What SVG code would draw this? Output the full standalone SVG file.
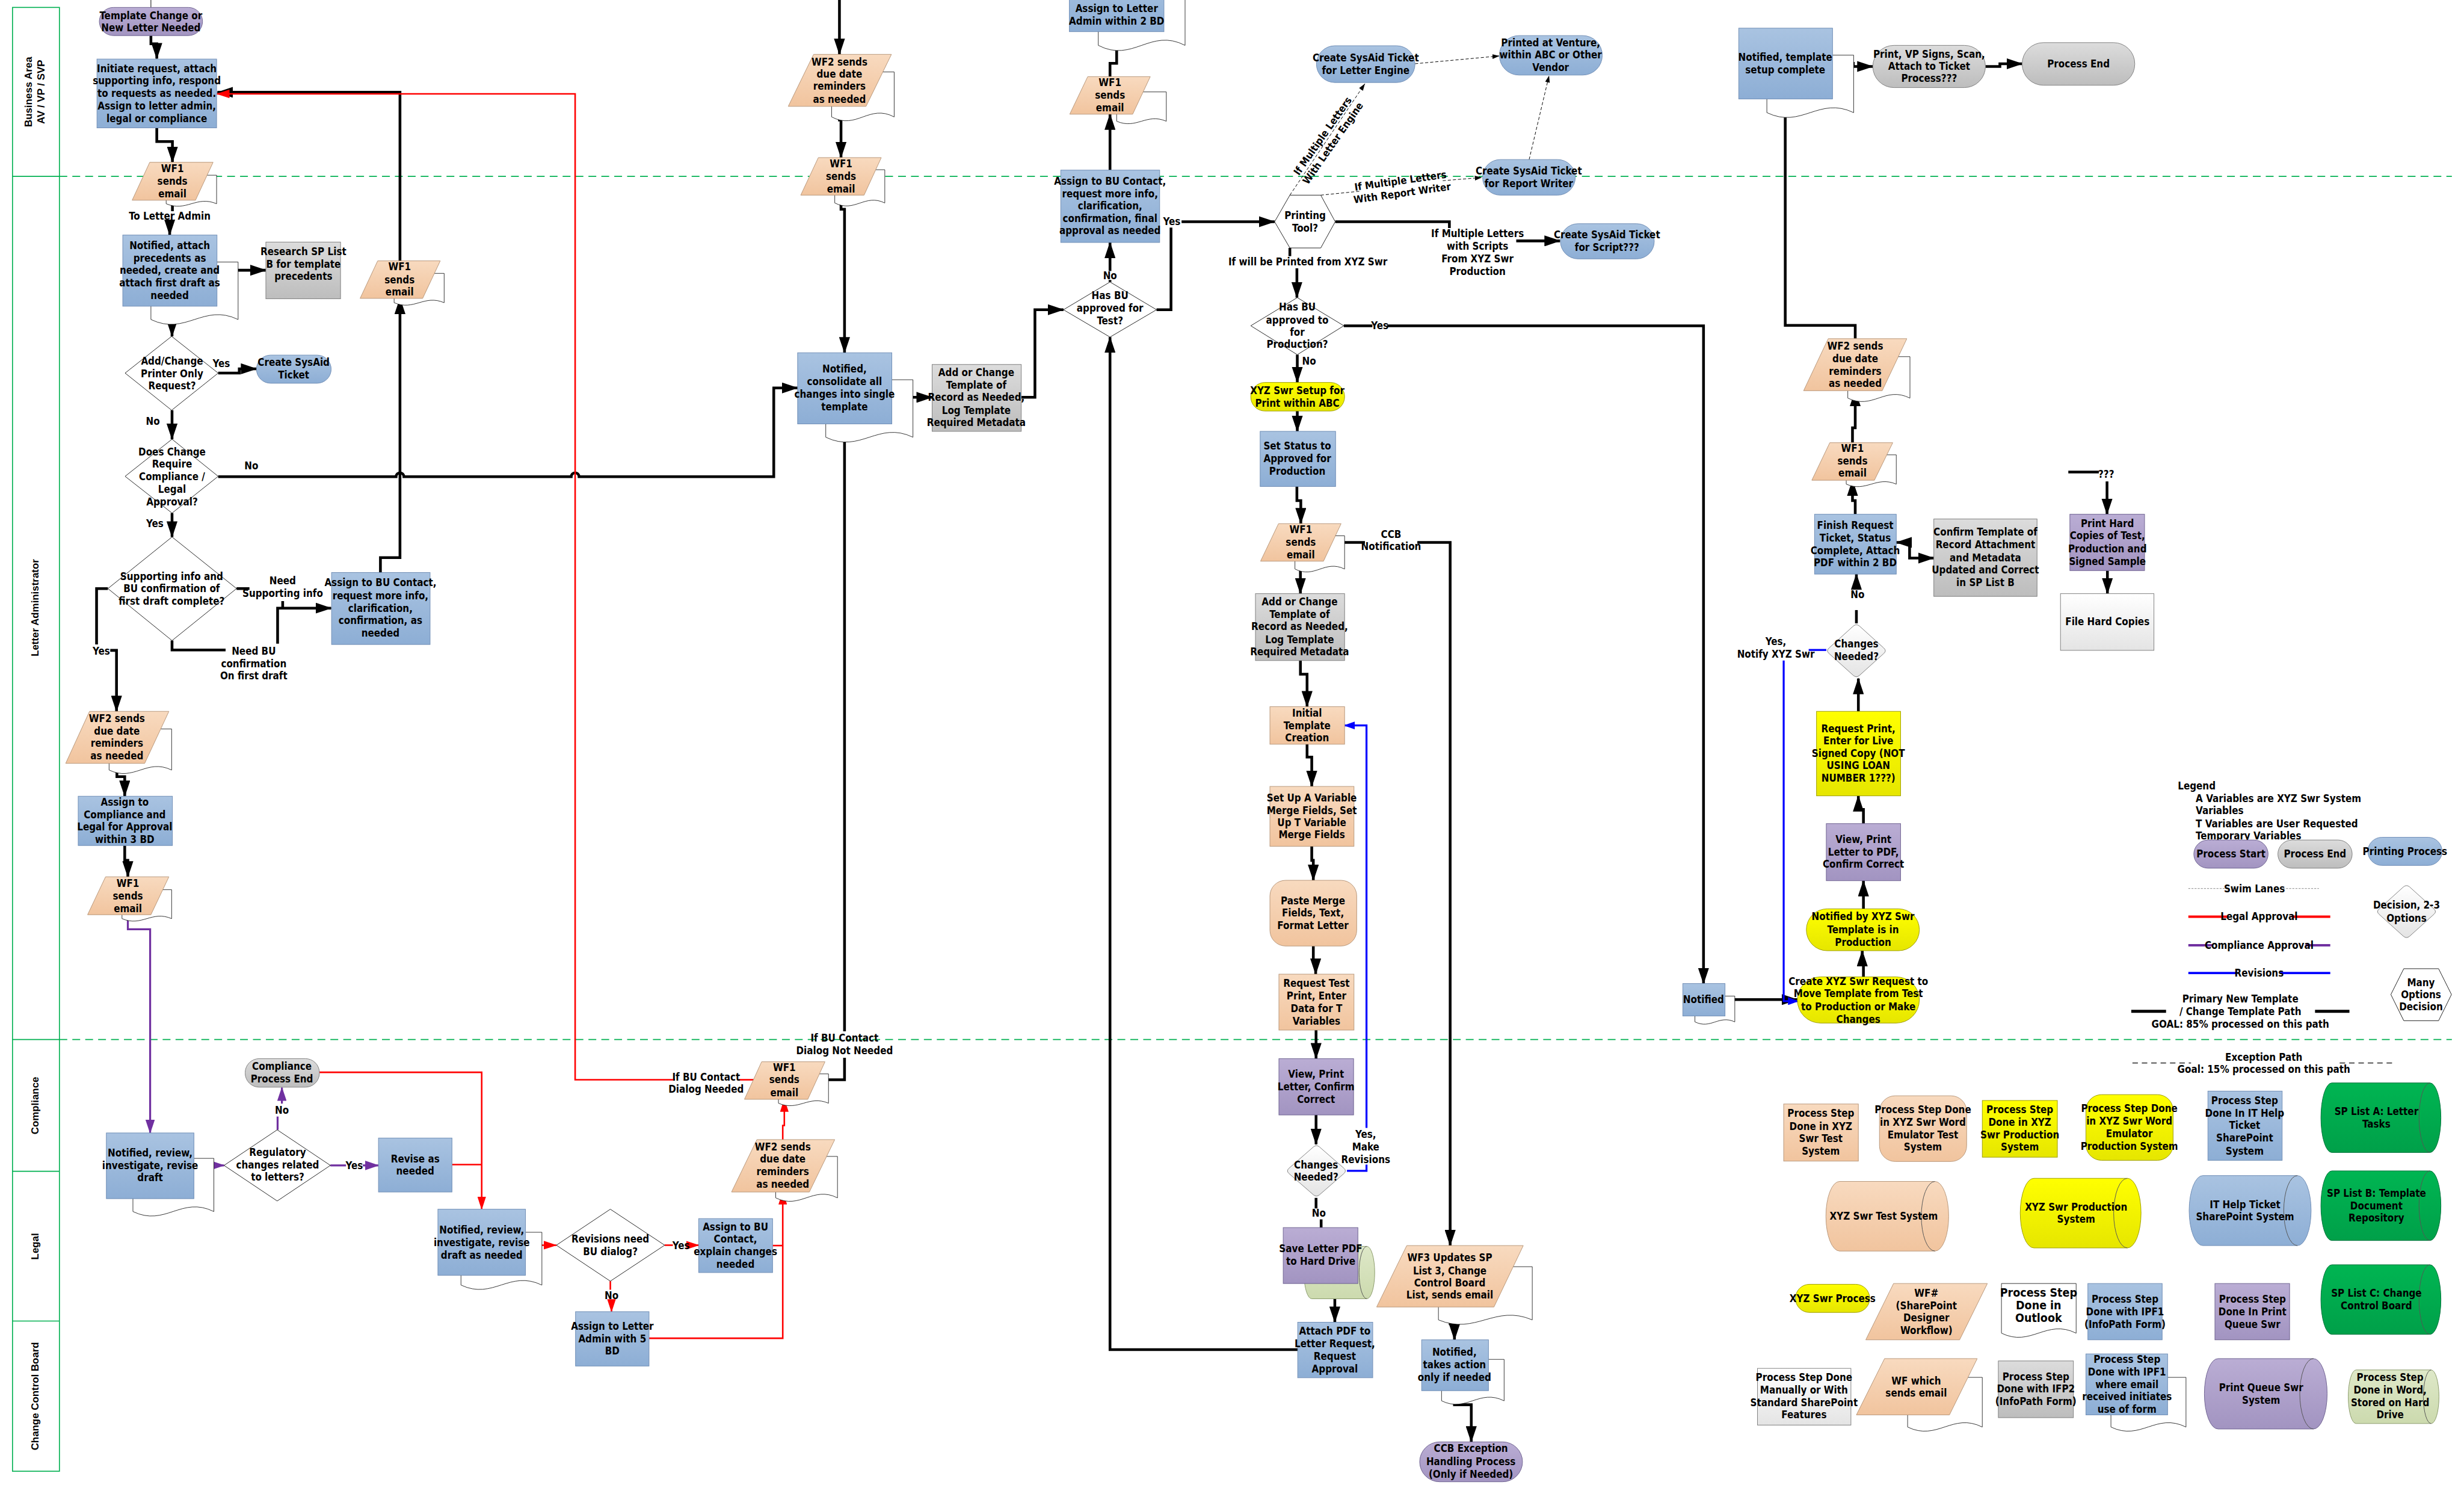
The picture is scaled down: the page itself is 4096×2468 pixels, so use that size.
<svg xmlns="http://www.w3.org/2000/svg" width="4096" height="2468" viewBox="0 0 4096 2468">
<defs>
<style>
.t{font-family:"Liberation Sans Narrow","Arial Narrow","DejaVu Sans Condensed","Liberation Sans",sans-serif;font-weight:bold;font-size:26px;text-anchor:middle;fill:#000}
.tl{font-family:"Liberation Sans Narrow","Arial Narrow","DejaVu Sans Condensed","Liberation Sans",sans-serif;font-weight:bold;font-size:26px;text-anchor:start;fill:#000}
.lane{font-family:"Liberation Sans",Arial,sans-serif;font-weight:bold;font-size:26px;text-anchor:middle;fill:#000}
.ck{fill:none;stroke:#000;stroke-width:7}
.cr{fill:none;stroke:#f00;stroke-width:4}
.cp{fill:none;stroke:#7030A0;stroke-width:5}
.cb{fill:none;stroke:#00f;stroke-width:5}
.cd{fill:none;stroke:#000;stroke-width:1.5;stroke-dasharray:8 5}
.thin{fill:none;stroke:#000;stroke-width:1.5}
.blue{fill:url(#gB);stroke:#6F8DB5;stroke-width:1.5}
.org{fill:url(#gO);stroke:#B8977A;stroke-width:1.5}
.gry{fill:url(#gG);stroke:#7F7F7F;stroke-width:1.5}
.pur{fill:url(#gP);stroke:#6E6290;stroke-width:1.5}
.yel{fill:url(#gY);stroke:#9C9C00;stroke-width:1.5}
.grn{fill:url(#gN);stroke:#00703A;stroke-width:1.5}
.lgr{fill:url(#gL);stroke:#8A9A6A;stroke-width:1.5}
.wht{fill:url(#gW);stroke:#7F7F7F;stroke-width:1.5}
.doc{fill:#fff;stroke:#000;stroke-width:1.2}
.dia{fill:#fff;stroke:#000;stroke-width:1.3}
.face{fill:none;stroke:#555;stroke-width:1.5}
.lg{fill:none;stroke:#00B050;stroke-width:2.5}
.ld{fill:none;stroke:#00B050;stroke-width:2.5;stroke-dasharray:20 13}
</style>
<linearGradient id="gB" x1="0" y1="0" x2="0" y2="1"><stop offset="0" stop-color="#A9C3E1"/><stop offset="1" stop-color="#8DAED5"/></linearGradient>
<linearGradient id="gO" x1="0" y1="0" x2="0" y2="1"><stop offset="0" stop-color="#F8DABF"/><stop offset="1" stop-color="#F1C49E"/></linearGradient>
<linearGradient id="gG" x1="0" y1="0" x2="0" y2="1"><stop offset="0" stop-color="#DCDCDC"/><stop offset="1" stop-color="#BDBDBD"/></linearGradient>
<linearGradient id="gP" x1="0" y1="0" x2="0" y2="1"><stop offset="0" stop-color="#BAADD4"/><stop offset="1" stop-color="#A294C1"/></linearGradient>
<linearGradient id="gY" x1="0" y1="0" x2="0" y2="1"><stop offset="0" stop-color="#FFFF00"/><stop offset="1" stop-color="#E6E600"/></linearGradient>
<linearGradient id="gN" x1="0" y1="0" x2="0" y2="1"><stop offset="0" stop-color="#00B552"/><stop offset="1" stop-color="#00A049"/></linearGradient>
<linearGradient id="gL" x1="0" y1="0" x2="0" y2="1"><stop offset="0" stop-color="#DEE8C8"/><stop offset="1" stop-color="#CCDAAE"/></linearGradient>
<linearGradient id="gW" x1="0" y1="0" x2="0" y2="1"><stop offset="0" stop-color="#FFFFFF"/><stop offset="1" stop-color="#E4E4E4"/></linearGradient>
<marker id="ab" viewBox="0 0 42 28" refX="40" refY="14" markerWidth="42" markerHeight="28" markerUnits="userSpaceOnUse" orient="auto-start-reverse"><path d="M0,0 L42,14 L0,28 Z" fill="#000"/></marker>
<marker id="ar" viewBox="0 0 34 22" refX="32" refY="11" markerWidth="34" markerHeight="22" markerUnits="userSpaceOnUse" orient="auto"><path d="M0,0 L34,11 L0,22 Z" fill="#f00"/></marker>
<marker id="ap" viewBox="0 0 36 24" refX="34" refY="12" markerWidth="36" markerHeight="24" markerUnits="userSpaceOnUse" orient="auto"><path d="M0,0 L36,12 L0,24 Z" fill="#7030A0"/></marker>
<marker id="abl" viewBox="0 0 28 20" refX="26" refY="10" markerWidth="28" markerHeight="20" markerUnits="userSpaceOnUse" orient="auto"><path d="M0,0 L28,10 L0,20 Z" fill="#00f"/></marker>
<marker id="as" viewBox="0 0 18 12" refX="18" refY="6" markerWidth="18" markerHeight="12" markerUnits="userSpaceOnUse" orient="auto"><path d="M0,0 L18,6 L0,12 Z" fill="#000"/></marker>
</defs>
<rect width="4096" height="2468" fill="#fff"/>
<g transform="scale(0.64995)">

<g id="swimlanes">
<rect class="lg" x="32" y="19" width="120" height="3743"/>
<path class="lg" d="M32,451 H152 M32,2658 H152 M32,2995 H152 M32,3378 H152"/>
<path class="ld" d="M152,451 H6271 M152,2658 H6271"/>
<text class="lane" transform="translate(82,235) rotate(-90)">Business Area</text>
<text class="lane" transform="translate(114,235) rotate(-90)">AV / VP / SVP</text>
<text class="lane" transform="translate(99,1554) rotate(-90)">Letter Administrator</text>
<text class="lane" transform="translate(99,2827) rotate(-90)">Compliance</text>
<text class="lane" transform="translate(99,3187) rotate(-90)">Legal</text>
<text class="lane" transform="translate(99,3570) rotate(-90)">Change Control Board</text>
</g>

<g id="connectors">
<path class="thin" d="M386,0 V19"/>
<path class="ck" d="M386,91 V112 H401 V150" marker-end="url(#ab)"/>
<path class="ck" d="M401,327 V362 H441 V415" marker-end="url(#ab)"/>
<path class="ck" d="M441,512 V540"/>
<path class="ck" d="M434,568 V601" marker-end="url(#ab)"/>
<path class="ck" d="M555,691 H680" marker-start="url(#ab)" marker-end="url(#ab)"/>
<path class="ck" d="M434,783 V817 H440 V860" marker-end="url(#ab)"/>
<path class="ck" d="M558,954 H612 V943 H656" marker-end="url(#ab)"/>
<path class="ck" d="M440,1049 V1123" marker-end="url(#ab)"/>
<path class="ck" d="M558,1219 H1013 A10,10 0 0 1 1033,1219 H1461 A10,10 0 0 1 1481,1219 H1979 V992 H2040" marker-end="url(#ab)"/>
<path class="ck" d="M440,1312 V1373" marker-end="url(#ab)"/>
<path class="ck" d="M276,1505 H247 V1648"/>
<path class="ck" d="M282,1663 H298 V1819" marker-end="url(#ab)"/>
<path class="ck" d="M605,1505 H638"/>
<path class="ck" d="M723,1537 V1555"/>
<path class="ck" d="M710,1646 V1555 H847" marker-end="url(#ab)"/>
<path class="ck" d="M440,1638 V1662 H577"/>
<path class="ck" d="M973,1464 V1426 H1023 V763" marker-end="url(#ab)"/>
<path class="ck" d="M1023,667 V236 H556" marker-end="url(#ab)"/>
<path class="ck" d="M299,1952 V1986 H319 V2036" marker-end="url(#ab)"/>
<path class="ck" d="M319,2162 V2200 H327 V2242" marker-end="url(#ab)"/>
<path class="cp" d="M327,2339 V2376 H384 V2897" marker-end="url(#ap)"/>
<path class="cp" d="M496,2980 H573" marker-end="url(#ap)"/>
<path class="cp" d="M710,2889 V2855"/>
<path class="cp" d="M721,2822 V2781" marker-end="url(#ap)"/>
<path class="cp" d="M845,2980 H885"/>
<path class="cp" d="M928,2980 H968" marker-end="url(#ap)"/>
<path class="cr" d="M817,2742 H1232 V3092" marker-end="url(#ar)"/>
<path class="cr" d="M1156,2978 H1232"/>
<path class="cr" d="M1344,3177 H1378 V3184 H1423" marker-end="url(#ar)"/>
<path class="cr" d="M1561,3276 V3298"/>
<path class="cr" d="M1564,3328 V3354" marker-end="url(#ar)"/>
<path class="cr" d="M1700,3184 H1721"/>
<path class="cr" d="M1762,3184 H1787" marker-end="url(#ar)"/>
<path class="cr" d="M1660,3422 H2002 V3048" marker-end="url(#ar)"/>
<path class="cr" d="M1976,3185 H2002"/>
<path class="cr" d="M2002,2914 V2878 H2006 V2811" marker-end="url(#ar)"/>
<path class="cr" d="M1928,2761 H1890"/>
<path class="cr" d="M1726,2761 H1471 V240 H555" marker-end="url(#ar)"/>
<path class="ck" d="M2091,2761 H2160 V2705"/>
<path class="ck" d="M2160,2637 V1084" marker-end="url(#ab)"/>
<path class="ck" d="M2147,0 V139" marker-end="url(#ab)"/>
<path class="ck" d="M2147,272 V307 H2151 V403" marker-end="url(#ab)"/>
<path class="ck" d="M2151,499 V535 H2160 V902" marker-end="url(#ab)"/>
<path class="ck" d="M2281,992 H2315 V1016 H2384" marker-end="url(#ab)"/>
<path class="ck" d="M2612,1016 H2647 V792 H2720" marker-end="url(#ab)"/>
<path class="ck" d="M2839,721 V716"/>
<path class="ck" d="M2839,693 V620" marker-end="url(#ab)"/>
<path class="ck" d="M3319,3451 H2839 V862" marker-end="url(#ab)"/>
<path class="ck" d="M2839,435 V292" marker-end="url(#ab)"/>
<path class="ck" d="M2839,196 V162 H2856 V81" marker-end="url(#ab)"/>
<path class="ck" d="M2958,792 H2995 V582"/>
<path class="ck" d="M3022,567 H3260" marker-end="url(#ab)"/>
<path class="cd" d="M3299,499 L3491,214" marker-end="url(#as)"/>
<path class="cd" d="M3619,163 L3835,143" marker-end="url(#as)"/>
<path class="cd" d="M3911,408 L3962,193" marker-end="url(#as)"/>
<path class="cd" d="M3378,499 L3478,489"/>
<path class="cd" d="M3690,462 L3790,454" marker-end="url(#as)"/>
<path class="ck" d="M3415,567 H3707 V583"/>
<path class="ck" d="M3878,616 H3990" marker-end="url(#ab)"/>
<path class="ck" d="M3299,634 V655"/>
<path class="ck" d="M3317,686 V761" marker-end="url(#ab)"/>
<path class="ck" d="M3437,833 H3510"/>
<path class="ck" d="M3548,833 H4357 V2515" marker-end="url(#ab)"/>
<path class="ck" d="M3318,907 V978" marker-end="url(#ab)"/>
<path class="ck" d="M3318,1051 V1103" marker-end="url(#ab)"/>
<path class="ck" d="M3317,1244 V1280 H3327 V1339" marker-end="url(#ab)"/>
<path class="ck" d="M3411,1387 H3491"/>
<path class="ck" d="M3625,1387 H3709 V3185" marker-end="url(#ab)"/>
<path class="ck" d="M3326,1435 V1518" marker-end="url(#ab)"/>
<path class="ck" d="M3326,1689 V1724 H3343 V1807" marker-end="url(#ab)"/>
<path class="cb" d="M3445,2994 H3495 V2978"/>
<path class="cb" d="M3495,2884 V1855 H3439" marker-end="url(#abl)"/>
<path class="ck" d="M3343,1903 V1936 H3355 V2011" marker-end="url(#ab)"/>
<path class="ck" d="M3355,2164 V2200 H3359 V2251" marker-end="url(#ab)"/>
<path class="ck" d="M3359,2419 V2455 H3365 V2491" marker-end="url(#ab)"/>
<path class="ck" d="M3366,2634 V2707" marker-end="url(#ab)"/>
<path class="ck" d="M3366,2851 V2926" marker-end="url(#ab)"/>
<path class="ck" d="M3366,3063 V3090"/>
<path class="ck" d="M3379,3118 V3139"/>
<path class="ck" d="M3414,3321 V3381" marker-end="url(#ab)"/>
<path class="ck" d="M3709,3342 V3385 H3720 V3426" marker-end="url(#ab)"/>
<path class="ck" d="M3720,3556 V3592 H3763 V3687" marker-end="url(#ab)"/>
<path class="ck" d="M4412,2556 H4597" marker-end="url(#ab)"/>
<path class="cb" d="M4671,1662 H4626"/>
<path class="cb" d="M4562,1689 V2560 H4599" marker-end="url(#abl)"/>
<path class="ck" d="M4766,2498 V2465 H4763 V2431" marker-end="url(#ab)"/>
<path class="ck" d="M4766,2324 V2252" marker-end="url(#ab)"/>
<path class="ck" d="M4766,2106 V2070 H4753 V2035" marker-end="url(#ab)"/>
<path class="ck" d="M4753,1819 V1735" marker-end="url(#ab)"/>
<path class="ck" d="M4748,1594 V1560"/>
<path class="ck" d="M4748,1505 V1468" marker-end="url(#ab)"/>
<path class="ck" d="M4745,1315 V1280 H4738 V1228" marker-end="url(#ab)"/>
<path class="ck" d="M4738,1132 V1094 H4745 V999" marker-end="url(#ab)"/>
<path class="ck" d="M4745,866 V832 H4566 V253" marker-end="url(#ab)"/>
<path class="ck" d="M4850,1387 H4884 V1427 H4946" marker-start="url(#ab)" marker-end="url(#ab)"/>
<path class="ck" d="M4687,162 H4740 V170 H4790" marker-end="url(#ab)"/>
<path class="ck" d="M5078,170 H5115 V163 H5172" marker-end="url(#ab)"/>
<path class="ck" d="M5290,1207 H5368"/>
<path class="ck" d="M5389,1231 V1315" marker-end="url(#ab)"/>
<path class="ck" d="M5390,1459 V1518" marker-end="url(#ab)"/>

<text class="t" x="434" y="562">To Letter Admin</text>
<text class="t" x="566" y="938">Yes</text>
<text class="t" x="391" y="1087">No</text>
<text class="t" x="643" y="1200">No</text>
<text class="t" x="396" y="1348">Yes</text>
<text class="t"><tspan x="723" y="1494">Need</tspan><tspan x="723" y="1527">Supporting info</tspan></text>
<text class="t"><tspan x="649" y="1674">Need BU</tspan><tspan x="649" y="1706">confirmation</tspan><tspan x="649" y="1737">On first draft</tspan></text>
<text class="t" x="259" y="1674">Yes</text>
<text class="t" x="721" y="2848">No</text>
<text class="t" x="906" y="2989">Yes</text>
<text class="t" x="1564" y="3322">No</text>
<text class="t" x="1742" y="3194">Yes</text>
<text class="t"><tspan x="1806" y="2763">If BU Contact</tspan><tspan x="1806" y="2794">Dialog Needed</tspan></text>
<text class="t"><tspan x="2160" y="2664">If BU Contact</tspan><tspan x="2160" y="2696">Dialog Not Needed</tspan></text>
<text class="t" x="2839" y="714">No</text>
<text class="t" x="2997" y="576">Yes</text>
<g transform="translate(3396,357) rotate(-55)"><text class="t"><tspan x="0" y="-7">If Multiple Letters</tspan><tspan x="0" y="25">With Letter Engine</tspan></text></g>
<g transform="translate(3584,478) rotate(-8)"><text class="t"><tspan x="0" y="-7">If Multiple Letters</tspan><tspan x="0" y="25">With Report Writer</tspan></text></g>
<text class="t" x="3345" y="679">If will be Printed from XYZ Swr</text>
<text class="t"><tspan x="3779" y="606">If Multiple Letters</tspan><tspan x="3779" y="639">with Scripts</tspan><tspan x="3779" y="671">From XYZ Swr</tspan><tspan x="3779" y="703">Production</tspan></text>
<text class="t" x="3529" y="842">Yes</text>
<text class="t" x="3348" y="932">No</text>
<text class="t"><tspan x="3558" y="1375">CCB</tspan><tspan x="3558" y="1407">Notification</tspan></text>
<text class="t"><tspan x="4542" y="1649">Yes,</tspan><tspan x="4542" y="1681">Notify XYZ Swr</tspan></text>
<text class="t" x="4751" y="1529">No</text>
<text class="t"><tspan x="3493" y="2910">Yes,</tspan><tspan x="3493" y="2942">Make</tspan><tspan x="3493" y="2974">Revisions</tspan></text>
<text class="t" x="3373" y="3111">No</text>
<text class="t" x="5387" y="1221">???</text>
</g>

<g id="n_start"><rect class="pur" x="254" y="19" width="264" height="72" rx="36" stroke="#555"/><text class="t"><tspan x="386" y="49">Template Change or</tspan><tspan x="386" y="80">New Letter Needed</tspan></text></g>
<g id="n_initiate"><rect class="blue" x="248" y="151" width="306" height="176"/><text class="t"><tspan x="401" y="184">Initiate request, attach</tspan><tspan x="401" y="216">supporting info, respond</tspan><tspan x="401" y="248">to requests as needed.</tspan><tspan x="401" y="280">Assign to letter admin,</tspan><tspan x="401" y="312">legal or compliance</tspan></text></g>
<g id="n_wf1a"><path class="doc" d="M425,448 H554 V521 C502,499 477,543 425,521 Z"/><polygon class="org" points="383,415 545,415 500,512 338,512"/><text class="t"><tspan x="441" y="440">WF1</tspan><tspan x="441" y="473">sends</tspan><tspan x="441" y="504">email</tspan></text></g>
<g id="n_notified1"><path class="doc" d="M386,670 H609 V817 C520,774 475,860 386,817 Z"/><rect class="blue" x="314" y="601" width="241" height="182"/><text class="t"><tspan x="434" y="637">Notified, attach</tspan><tspan x="434" y="669">precedents as</tspan><tspan x="434" y="700">needed, create and</tspan><tspan x="434" y="733">attach first draft as</tspan><tspan x="434" y="765">needed</tspan></text></g>
<g id="n_research"><rect class="gry" x="680" y="619" width="191" height="145"/><text class="t"><tspan x="776" y="652">Research SP List</tspan><tspan x="776" y="684">B for template</tspan><tspan x="776" y="716">precedents</tspan></text></g>
<g id="n_dec1"><polygon class="dia" points="439,860 558,954 439,1049 320,954"/><text class="t"><tspan x="440" y="932">Add/Change</tspan><tspan x="440" y="964">Printer Only</tspan><tspan x="440" y="996">Request?</tspan></text></g>
<g id="n_sysaid1"><rect class="blue" x="656" y="908" width="191" height="72" rx="36" stroke="#555"/><text class="t"><tspan x="751" y="936">Create SysAid</tspan><tspan x="751" y="967">Ticket</tspan></text></g>
<g id="n_dec2"><polygon class="dia" points="440,1123 558,1218 440,1312 320,1218"/><text class="t"><tspan x="440" y="1164">Does Change</tspan><tspan x="440" y="1195">Require</tspan><tspan x="440" y="1228">Compliance /</tspan><tspan x="440" y="1260">Legal</tspan><tspan x="440" y="1292">Approval?</tspan></text></g>
<g id="n_wf1b"><path class="doc" d="M1008,699 H1136 V774 C1085,752 1059,796 1008,774 Z"/><polygon class="org" points="966,667 1126,667 1081,763 921,763"/><text class="t"><tspan x="1022" y="691">WF1</tspan><tspan x="1022" y="724">sends</tspan><tspan x="1022" y="755">email</tspan></text></g>
<g id="n_dec3"><polygon class="dia" points="440,1373 605,1505 440,1638 276,1505"/><text class="t"><tspan x="439" y="1483">Supporting info and</tspan><tspan x="439" y="1514">BU  confirmation of</tspan><tspan x="439" y="1547">first draft complete?</tspan></text></g>
<g id="n_assignbu1"><rect class="blue" x="848" y="1464" width="252" height="184"/><text class="t"><tspan x="973" y="1499">Assign to BU Contact,</tspan><tspan x="973" y="1532">request more info,</tspan><tspan x="973" y="1564">clarification,</tspan><tspan x="973" y="1596">confirmation, as</tspan><tspan x="973" y="1628">needed</tspan></text></g>
<g id="n_wf2a"><path class="doc" d="M279,1864 H439 V1969 C375,1938 343,2000 279,1969 Z"/><polygon class="org" points="229,1819 432,1819 370,1952 168,1952"/><text class="t"><tspan x="299" y="1846">WF2 sends</tspan><tspan x="299" y="1878">due date</tspan><tspan x="299" y="1910">reminders</tspan><tspan x="299" y="1941">as needed</tspan></text></g>
<g id="n_assigncomp"><rect class="blue" x="200" y="2036" width="241" height="126"/><text class="t"><tspan x="319" y="2060">Assign to</tspan><tspan x="319" y="2092">Compliance and</tspan><tspan x="319" y="2124">Legal for Approval</tspan><tspan x="319" y="2156">within 3 BD</tspan></text></g>
<g id="n_wf1c"><path class="doc" d="M312,2275 H439 V2349 C388,2327 363,2371 312,2349 Z"/><polygon class="org" points="270,2242 432,2242 386,2339 224,2339"/><text class="t"><tspan x="327" y="2268">WF1</tspan><tspan x="327" y="2300">sends</tspan><tspan x="327" y="2332">email</tspan></text></g>
<g id="n_notrev1"><path class="doc" d="M340,2962 H547 V3098 C464,3057 423,3138 340,3098 Z"/><rect class="blue" x="272" y="2897" width="224" height="168"/><text class="t"><tspan x="384" y="2957">Notified, review,</tspan><tspan x="384" y="2990">investigate, revise</tspan><tspan x="384" y="3021">draft</tspan></text></g>
<g id="n_decreg"><polygon class="dia" points="709,2889 845,2980 709,3071 573,2980"/><text class="t"><tspan x="710" y="2956">Regulatory</tspan><tspan x="710" y="2988">changes related</tspan><tspan x="710" y="3019">to letters?</tspan></text></g>
<g id="n_compend"><rect class="gry" x="627" y="2707" width="190" height="73" rx="36" stroke="#555"/><text class="t"><tspan x="721" y="2736">Compliance</tspan><tspan x="721" y="2768">Process End</tspan></text></g>
<g id="n_revise"><rect class="blue" x="968" y="2910" width="188" height="138"/><text class="t"><tspan x="1062" y="2973">Revise as</tspan><tspan x="1062" y="3004">needed</tspan></text></g>
<g id="n_notrev2"><path class="doc" d="M1179,3151 H1386 V3286 C1303,3246 1262,3325 1179,3286 Z"/><rect class="blue" x="1120" y="3092" width="224" height="169"/><text class="t"><tspan x="1232" y="3154">Notified, review,</tspan><tspan x="1232" y="3186">investigate, revise</tspan><tspan x="1232" y="3218">draft as needed</tspan></text></g>
<g id="n_decrev"><polygon class="dia" points="1561,3092 1700,3184 1561,3276 1423,3184"/><text class="t"><tspan x="1561" y="3177">Revisions need</tspan><tspan x="1561" y="3209">BU dialog?</tspan></text></g>
<g id="n_assignla5"><rect class="blue" x="1472" y="3354" width="188" height="139"/><text class="t"><tspan x="1566" y="3400">Assign to Letter</tspan><tspan x="1566" y="3432">Admin with 5</tspan><tspan x="1566" y="3464">BD</tspan></text></g>
<g id="n_assignbu2"><rect class="blue" x="1787" y="3116" width="189" height="138"/><text class="t"><tspan x="1881" y="3146">Assign to BU</tspan><tspan x="1881" y="3177">Contact,</tspan><tspan x="1881" y="3209">explain changes</tspan><tspan x="1881" y="3242">needed</tspan></text></g>
<g id="n_wf2b"><path class="doc" d="M1984,2957 H2142 V3063 C2079,3031 2047,3094 1984,3063 Z"/><polygon class="org" points="1936,2914 2135,2914 2070,3048 1871,3048"/><text class="t"><tspan x="2002" y="2941">WF2 sends</tspan><tspan x="2002" y="2973">due date</tspan><tspan x="2002" y="3005">reminders</tspan><tspan x="2002" y="3037">as needed</tspan></text></g>
<g id="n_wf1d"><path class="doc" d="M1991,2746 H2119 V2821 C2068,2799 2042,2843 1991,2821 Z"/><polygon class="org" points="1948,2715 2110,2715 2066,2811 1904,2811"/><text class="t"><tspan x="2006" y="2739">WF1</tspan><tspan x="2006" y="2770">sends</tspan><tspan x="2006" y="2803">email</tspan></text></g>
<g id="n_wf2c"><path class="doc" d="M2127,184 H2287 V299 C2223,265 2191,333 2127,299 Z"/><polygon class="org" points="2081,139 2280,139 2215,272 2016,272"/><text class="t"><tspan x="2147" y="167">WF2 sends</tspan><tspan x="2147" y="199">due date</tspan><tspan x="2147" y="230">reminders</tspan><tspan x="2147" y="263">as needed</tspan></text></g>
<g id="n_wf1e"><path class="doc" d="M2135,434 H2263 V519 C2212,494 2186,545 2135,519 Z"/><polygon class="org" points="2093,403 2254,403 2210,499 2048,499"/><text class="t"><tspan x="2151" y="428">WF1</tspan><tspan x="2151" y="460">sends</tspan><tspan x="2151" y="492">email</tspan></text></g>
<g id="n_consol"><path class="doc" d="M2112,971 H2335 V1118 C2246,1075 2201,1161 2112,1118 Z"/><rect class="blue" x="2040" y="902" width="241" height="182"/><text class="t"><tspan x="2160" y="953">Notified,</tspan><tspan x="2160" y="985">consolidate all</tspan><tspan x="2160" y="1017">changes into single</tspan><tspan x="2160" y="1049">template</tspan></text></g>
<g id="n_addchg1"><rect class="gry" x="2384" y="932" width="228" height="171"/><text class="t"><tspan x="2497" y="962">Add or Change</tspan><tspan x="2497" y="994">Template of</tspan><tspan x="2497" y="1025">Record as Needed,</tspan><tspan x="2497" y="1058">Log Template</tspan><tspan x="2497" y="1090">Required Metadata</tspan></text></g>
<g id="n_dectest"><polygon class="dia" points="2839,721 2958,792 2839,862 2720,792"/><text class="t"><tspan x="2839" y="765">Has BU</tspan><tspan x="2839" y="797">approved for</tspan><tspan x="2839" y="829">Test?</tspan></text></g>
<g id="n_assignbu3"><rect class="blue" x="2713" y="435" width="253" height="185"/><text class="t"><tspan x="2839" y="472">Assign to BU Contact,</tspan><tspan x="2839" y="504">request more info,</tspan><tspan x="2839" y="535">clarification,</tspan><tspan x="2839" y="568">confirmation, final</tspan><tspan x="2839" y="599">approval as needed</tspan></text></g>
<g id="n_wf1f"><path class="doc" d="M2856,235 H2983 V310 C2932,288 2907,332 2856,310 Z"/><polygon class="org" points="2782,196 2942,196 2897,292 2736,292"/><text class="t"><tspan x="2839" y="220">WF1</tspan><tspan x="2839" y="252">sends</tspan><tspan x="2839" y="285">email</tspan></text></g>
<g id="n_assignla2"><path class="doc" d="M2809,-40 H3031 V116 C2942,70 2898,162 2809,116 Z"/><rect class="blue" x="2735" y="-60" width="242" height="141"/><text class="t"><tspan x="2856" y="31">Assign to Letter</tspan><tspan x="2856" y="63">Admin within 2 BD</tspan></text></g>
<g id="n_printtool"><polygon class="dia" points="3260,567 3299,499 3378,499 3415,567 3378,634 3299,634"/><text class="t"><tspan x="3338" y="560">Printing</tspan><tspan x="3338" y="592">Tool?</tspan></text></g>
<g id="n_sysaidle"><rect class="blue" x="3367" y="117" width="252" height="94" rx="47" stroke="#555"/><text class="t"><tspan x="3493" y="157">Create SysAid Ticket</tspan><tspan x="3493" y="189">for Letter Engine</tspan></text></g>
<g id="n_venture"><rect class="blue" x="3835" y="91" width="263" height="101" rx="50" stroke="#555"/><text class="t"><tspan x="3966" y="118">Printed at Venture,</tspan><tspan x="3966" y="150">within ABC or Other</tspan><tspan x="3966" y="181">Vendor</tspan></text></g>
<g id="n_sysaidrw"><rect class="blue" x="3792" y="408" width="237" height="91" rx="45" stroke="#555"/><text class="t"><tspan x="3910" y="446">Create SysAid Ticket</tspan><tspan x="3910" y="478">for Report Writer</tspan></text></g>
<g id="n_sysaidsc"><rect class="blue" x="3991" y="572" width="240" height="90" rx="45" stroke="#555"/><text class="t"><tspan x="4110" y="610">Create SysAid Ticket</tspan><tspan x="4110" y="642">for Script???</tspan></text></g>
<g id="n_decprod"><polygon class="dia" points="3318,761 3437,833 3318,907 3199,833"/><text class="t"><tspan x="3318" y="794">Has BU</tspan><tspan x="3318" y="827">approved to</tspan><tspan x="3318" y="859">for</tspan><tspan x="3318" y="890">Production?</tspan></text></g>
<g id="n_xyzsetup"><rect class="yel" x="3199" y="978" width="240" height="73" rx="36" stroke="#555"/><text class="t"><tspan x="3318" y="1008">XYZ Swr Setup for</tspan><tspan x="3318" y="1040">Print within ABC</tspan></text></g>
<g id="n_setstatus"><rect class="blue" x="3223" y="1103" width="193" height="141"/><text class="t"><tspan x="3318" y="1150">Set Status to</tspan><tspan x="3318" y="1182">Approved for</tspan><tspan x="3318" y="1214">Production</tspan></text></g>
<g id="n_wf1g"><path class="doc" d="M3312,1370 H3439 V1455 C3388,1430 3363,1481 3312,1455 Z"/><polygon class="org" points="3270,1339 3430,1339 3385,1435 3224,1435"/><text class="t"><tspan x="3327" y="1363">WF1</tspan><tspan x="3327" y="1396">sends</tspan><tspan x="3327" y="1428">email</tspan></text></g>
<g id="n_addchg2"><rect class="gry" x="3211" y="1518" width="228" height="171"/><text class="t"><tspan x="3324" y="1548">Add or Change</tspan><tspan x="3324" y="1580">Template of</tspan><tspan x="3324" y="1611">Record as Needed,</tspan><tspan x="3324" y="1644">Log Template</tspan><tspan x="3324" y="1676">Required Metadata</tspan></text></g>
<g id="n_initial"><rect class="org" x="3248" y="1807" width="191" height="96"/><text class="t"><tspan x="3343" y="1832">Initial</tspan><tspan x="3343" y="1864">Template</tspan><tspan x="3343" y="1896">Creation</tspan></text></g>
<g id="n_setup"><rect class="org" x="3248" y="2011" width="215" height="153"/><text class="t"><tspan x="3355" y="2049">Set Up A Variable</tspan><tspan x="3355" y="2081">Merge Fields, Set</tspan><tspan x="3355" y="2113">Up T Variable</tspan><tspan x="3355" y="2144">Merge Fields</tspan></text></g>
<g id="n_paste"><rect class="org" x="3248" y="2251" width="222" height="168" rx="40"/><text class="t"><tspan x="3358" y="2312">Paste Merge</tspan><tspan x="3358" y="2343">Fields, Text,</tspan><tspan x="3358" y="2376">Format Letter</tspan></text></g>
<g id="n_reqtest"><rect class="org" x="3271" y="2491" width="192" height="143"/><text class="t"><tspan x="3367" y="2524">Request Test</tspan><tspan x="3367" y="2555">Print, Enter</tspan><tspan x="3367" y="2588">Data for T</tspan><tspan x="3367" y="2620">Variables</tspan></text></g>
<g id="n_view1"><rect class="pur" x="3271" y="2707" width="191" height="144"/><text class="t"><tspan x="3366" y="2756">View, Print</tspan><tspan x="3366" y="2788">Letter, Confirm</tspan><tspan x="3366" y="2820">Correct</tspan></text></g>
<g id="n_chg1"><path class="wht" d="M3375,2933 L3437,2987 Q3445,2994 3437,3001 L3375,3055 Q3367,3062 3359,3055 L3297,3001 Q3289,2994 3297,2987 L3359,2933 Q3367,2926 3375,2933 Z"/><text class="t"><tspan x="3366" y="2988">Changes</tspan><tspan x="3366" y="3019">Needed?</tspan></text></g>
<g id="n_save"><path class="lgr" d="M3355,3187 H3496 A20,67 0 0 1 3496,3321 H3355 A20,67 0 0 1 3355,3187 Z"/><path class="face" d="M3496,3187 A20,67 0 0 0 3496,3321"/><rect class="pur" x="3282" y="3139" width="191" height="143"/><text class="t"><tspan x="3378" y="3202">Save Letter PDF</tspan><tspan x="3378" y="3234">to Hard Drive</tspan></text></g>
<g id="n_attach"><rect class="blue" x="3319" y="3381" width="192" height="142"/><text class="t"><tspan x="3414" y="3412">Attach PDF to</tspan><tspan x="3414" y="3445">Letter Request,</tspan><tspan x="3414" y="3477">Request</tspan><tspan x="3414" y="3509">Approval</tspan></text></g>
<g id="n_wf3"><path class="doc" d="M3679,3239 H3919 V3375 C3823,3334 3775,3415 3679,3375 Z"/><polygon class="org" points="3598,3185 3896,3185 3821,3342 3521,3342"/><text class="t"><tspan x="3708" y="3225">WF3 Updates SP</tspan><tspan x="3708" y="3258">List 3, Change</tspan><tspan x="3708" y="3290">Control Board</tspan><tspan x="3708" y="3320">List, sends email</tspan></text></g>
<g id="n_ccbnot"><path class="doc" d="M3687,3476 H3847 V3582 C3783,3550 3751,3613 3687,3582 Z"/><rect class="blue" x="3636" y="3426" width="171" height="130"/><text class="t"><tspan x="3720" y="3467">Notified,</tspan><tspan x="3720" y="3499">takes action</tspan><tspan x="3720" y="3531">only if needed</tspan></text></g>
<g id="n_ccbexc"><rect class="pur" x="3631" y="3687" width="263" height="102" rx="51" stroke="#555"/><text class="t"><tspan x="3762" y="3713">CCB Exception</tspan><tspan x="3762" y="3746">Handling Process</tspan><tspan x="3762" y="3778">(Only if Needed)</tspan></text></g>
<g id="n_notified"><path class="doc" d="M4335,2547 H4437 V2613 C4396,2594 4376,2633 4335,2613 Z"/><rect class="blue" x="4304" y="2515" width="108" height="83"/><text class="t" x="4357" y="2565">Notified</text></g>
<g id="n_createxyz"><rect class="yel" x="4597" y="2498" width="312" height="118" rx="59" stroke="#555"/><text class="t"><tspan x="4753" y="2519">Create XYZ Swr Request to</tspan><tspan x="4753" y="2550">Move Template from Test</tspan><tspan x="4753" y="2583">to Production or Make</tspan><tspan x="4753" y="2615">Changes</tspan></text></g>
<g id="n_notby"><rect class="yel" x="4620" y="2324" width="289" height="107" rx="53" stroke="#555"/><text class="t"><tspan x="4765" y="2353">Notified by XYZ Swr</tspan><tspan x="4765" y="2386">Template is in</tspan><tspan x="4765" y="2418">Production</tspan></text></g>
<g id="n_view2"><rect class="pur" x="4671" y="2106" width="190" height="146"/><text class="t"><tspan x="4766" y="2155">View, Print</tspan><tspan x="4766" y="2188">Letter to PDF,</tspan><tspan x="4766" y="2219">Confirm Correct</tspan></text></g>
<g id="n_reqprint"><rect class="yel" x="4646" y="1819" width="215" height="216"/><text class="t"><tspan x="4753" y="1872">Request Print,</tspan><tspan x="4753" y="1903">Enter for Live</tspan><tspan x="4753" y="1936">Signed Copy (NOT</tspan><tspan x="4753" y="1967">USING LOAN</tspan><tspan x="4753" y="1999">NUMBER 1???)</tspan></text></g>
<g id="n_chg2"><path class="wht" d="M4756,1601 L4818,1657 Q4826,1664 4818,1671 L4756,1727 Q4748,1734 4740,1727 L4678,1671 Q4670,1664 4678,1657 L4740,1601 Q4748,1594 4756,1601 Z"/><text class="t"><tspan x="4748" y="1655">Changes</tspan><tspan x="4748" y="1688">Needed?</tspan></text></g>
<g id="n_finish"><rect class="blue" x="4641" y="1315" width="209" height="153"/><text class="t"><tspan x="4745" y="1352">Finish Request</tspan><tspan x="4745" y="1384">Ticket, Status</tspan><tspan x="4745" y="1417">Complete, Attach</tspan><tspan x="4745" y="1448">PDF within 2 BD</tspan></text></g>
<g id="n_confirm"><rect class="gry" x="4946" y="1327" width="264" height="198"/><text class="t"><tspan x="5078" y="1370">Confirm Template of</tspan><tspan x="5078" y="1402">Record Attachment</tspan><tspan x="5078" y="1435">and Metadata</tspan><tspan x="5078" y="1467">Updated and Correct</tspan><tspan x="5078" y="1499">in SP List B</tspan></text></g>
<g id="n_wf1h"><path class="doc" d="M4722,1163 H4850 V1238 C4799,1216 4773,1260 4722,1238 Z"/><polygon class="org" points="4680,1132 4841,1132 4794,1228 4634,1228"/><text class="t"><tspan x="4738" y="1156">WF1</tspan><tspan x="4738" y="1188">sends</tspan><tspan x="4738" y="1219">email</tspan></text></g>
<g id="n_wf2d"><path class="doc" d="M4726,912 H4885 V1018 C4821,986 4790,1049 4726,1018 Z"/><polygon class="org" points="4676,866 4877,866 4814,999 4613,999"/><text class="t"><tspan x="4745" y="894">WF2 sends</tspan><tspan x="4745" y="926">due date</tspan><tspan x="4745" y="958">reminders</tspan><tspan x="4745" y="990">as needed</tspan></text></g>
<g id="n_notifsetup"><path class="doc" d="M4519,141 H4741 V288 C4652,245 4608,331 4519,288 Z"/><rect class="blue" x="4447" y="72" width="240" height="181"/><text class="t"><tspan x="4566" y="155">Notified, template</tspan><tspan x="4566" y="188">setup complete</tspan></text></g>
<g id="n_printvp"><rect class="gry" x="4790" y="116" width="288" height="108" rx="54" stroke="#555"/><text class="t"><tspan x="4934" y="147">Print, VP Signs, Scan,</tspan><tspan x="4934" y="179">Attach to Ticket</tspan><tspan x="4934" y="210">Process???</tspan></text></g>
<g id="n_procend"><rect class="gry" x="5172" y="109" width="288" height="109" rx="54" stroke="#555"/><text class="t" x="5316" y="172">Process End</text></g>
<g id="n_printhard"><rect class="pur" x="5294" y="1315" width="191" height="144"/><text class="t"><tspan x="5390" y="1348">Print Hard</tspan><tspan x="5390" y="1379">Copies of Test,</tspan><tspan x="5390" y="1412">Production and</tspan><tspan x="5390" y="1444">Signed Sample</tspan></text></g>
<g id="n_file"><rect class="wht" x="5270" y="1518" width="239" height="145"/><text class="t" x="5390" y="1599">File Hard Copies</text></g>

<g id="legend">
<text class="tl" x="5570" y="2018">Legend</text>
<text class="tl"><tspan x="5616" y="2051">A Variables are XYZ Swr System</tspan><tspan x="5616" y="2082">Variables</tspan><tspan x="5616" y="2115">T Variables are User Requested</tspan><tspan x="5616" y="2147">Temporary Variables</tspan></text>
<rect class="pur" x="5611" y="2148" width="190" height="72" rx="36" stroke="#555"/><text class="t" x="5706" y="2193">Process Start</text>
<rect class="gry" x="5826" y="2148" width="190" height="72" rx="36" stroke="#555"/><text class="t" x="5921" y="2193">Process End</text>
<rect class="blue" x="6056" y="2141" width="190" height="72" rx="36" stroke="#555"/><text class="t" x="6151" y="2186">Printing Process</text>
<path d="M5597,2272 H5696 M5831,2272 H5931" fill="none" stroke="#888" stroke-width="1.5" stroke-dasharray="5 3"/>
<text class="t" x="5766" y="2281">Swim Lanes</text>
<path d="M5597,2344 H5696 M5861,2344 H5960" fill="none" stroke="#f00" stroke-width="6"/>
<text class="t" x="5778" y="2353">Legal Approval</text>
<path d="M5597,2417 H5660 M5897,2417 H5960" fill="none" stroke="#7030A0" stroke-width="6"/>
<text class="t" x="5778" y="2426">Compliance Approval</text>
<path d="M5597,2488 H5723 M5832,2488 H5960" fill="none" stroke="#00f" stroke-width="6"/>
<text class="t" x="5778" y="2497">Revisions</text>
<path class="wht" d="M6163,2268 L6225,2324 Q6233,2331 6225,2338 L6163,2394 Q6155,2401 6147,2394 L6085,2338 Q6077,2331 6085,2324 L6147,2268 Q6155,2261 6163,2268 Z"/>
<text class="t"><tspan x="6155" y="2324">Decision, 2-3</tspan><tspan x="6155" y="2357">Options</tspan></text>
<polygon class="dia" points="6115,2543 6148,2477 6237,2477 6270,2543 6237,2610 6148,2610"/>
<text class="t"><tspan x="6192" y="2521">Many</tspan><tspan x="6192" y="2552">Options</tspan><tspan x="6192" y="2584">Decision</tspan></text>
<path d="M5451,2586 H5540 M5921,2586 H6009" fill="none" stroke="#000" stroke-width="8"/>
<text class="t"><tspan x="5730" y="2564">Primary New Template</tspan><tspan x="5730" y="2596">/ Change Template Path</tspan><tspan x="5730" y="2628">GOAL: 85% processed on this path</tspan></text>
<path d="M5454,2718 H5604 M5984,2718 H6127" fill="none" stroke="#000" stroke-width="2" stroke-dasharray="14 10"/>
<text class="t"><tspan x="5790" y="2712">Exception Path</tspan><tspan x="5790" y="2744">Goal:  15% processed on this path</tspan></text>

<g id="lg_test"><rect class="org" x="4562" y="2823" width="191" height="146"/><text class="t"><tspan x="4657" y="2856">Process Step</tspan><tspan x="4657" y="2889">Done in XYZ</tspan><tspan x="4657" y="2920">Swr Test</tspan><tspan x="4657" y="2952">System</tspan></text></g>
<g id="lg_emtest"><rect class="org" x="4807" y="2802" width="223" height="168" rx="40"/><text class="t"><tspan x="4918" y="2847">Process Step Done</tspan><tspan x="4918" y="2879">in XYZ Swr Word</tspan><tspan x="4918" y="2911">Emulator Test</tspan><tspan x="4918" y="2942">System</tspan></text></g>
<g id="lg_prod"><rect class="yel" x="5070" y="2814" width="192" height="145"/><text class="t"><tspan x="5166" y="2847">Process Step</tspan><tspan x="5166" y="2879">Done in XYZ</tspan><tspan x="5166" y="2911">Swr Production</tspan><tspan x="5166" y="2942">System</tspan></text></g>
<g id="lg_emprod"><rect class="yel" x="5335" y="2799" width="223" height="168" rx="40"/><text class="t"><tspan x="5446" y="2844">Process Step Done</tspan><tspan x="5446" y="2876">in XYZ Swr Word</tspan><tspan x="5446" y="2908">Emulator</tspan><tspan x="5446" y="2940">Production System</tspan></text></g>
<g id="lg_ithelp"><rect class="blue" x="5647" y="2790" width="190" height="177"/><text class="t"><tspan x="5741" y="2823">Process Step</tspan><tspan x="5741" y="2856">Done In IT Help</tspan><tspan x="5741" y="2887">Ticket</tspan><tspan x="5741" y="2919">SharePoint</tspan><tspan x="5741" y="2952">System</tspan></text></g>
<g id="lg_spa"><path class="grn" d="M5964,2769 H6215 A28,89 0 0 1 6215,2947 H5964 A28,89 0 0 1 5964,2769 Z"/><path class="face" d="M6215,2769 A28,89 0 0 0 6215,2947"/><text class="t"><tspan x="6078" y="2851">SP List A: Letter</tspan><tspan x="6078" y="2883">Tasks</tspan></text></g>
<g id="lg_testsys"><path class="org" d="M4705,3021 H4949 A35,89 0 0 1 4949,3199 H4705 A35,89 0 0 1 4705,3021 Z"/><path class="face" d="M4949,3021 A35,89 0 0 0 4949,3199"/><text class="t" x="4818" y="3118">XYZ Swr Test System</text></g>
<g id="lg_prodsys"><path class="yel" d="M5202,3013 H5441 A35,89 0 0 1 5441,3191 H5202 A35,89 0 0 1 5202,3013 Z"/><path class="face" d="M5441,3013 A35,89 0 0 0 5441,3191"/><text class="t"><tspan x="5310" y="3095">XYZ Swr Production</tspan><tspan x="5310" y="3127">System</tspan></text></g>
<g id="lg_itsys"><path class="blue" d="M5634,3006 H5876 A35,89.5 0 0 1 5876,3185 H5634 A35,89.5 0 0 1 5634,3006 Z"/><path class="face" d="M5876,3006 A35,89.5 0 0 0 5876,3185"/><text class="t"><tspan x="5742" y="3089">IT Help Ticket</tspan><tspan x="5742" y="3121">SharePoint System</tspan></text></g>
<g id="lg_spb"><path class="grn" d="M5964,2994 H6215 A28,89 0 0 1 6215,3172 H5964 A28,89 0 0 1 5964,2994 Z"/><path class="face" d="M6215,2994 A28,89 0 0 0 6215,3172"/><text class="t"><tspan x="6078" y="3060">SP List B:  Template</tspan><tspan x="6078" y="3092">Document</tspan><tspan x="6078" y="3124">Repository</tspan></text></g>
<g id="lg_xyzproc"><rect class="yel" x="4592" y="3284" width="190" height="72" rx="36" stroke="#555"/><text class="t" x="4687" y="3329">XYZ Swr Process</text></g>
<g id="lg_wfnum"><polygon class="org" points="4843,3282 5083,3282 5012,3426 4772,3426"/><text class="t"><tspan x="4927" y="3315">WF#</tspan><tspan x="4927" y="3348">(SharePoint</tspan><tspan x="4927" y="3379">Designer</tspan><tspan x="4927" y="3411">Workflow)</tspan></text></g>
<g id="lg_outlook"><path class="doc" d="M5119,3282 H5310 V3409 C5234,3371 5195,3446 5119,3409 Z"/><text class="t" style="font-size:30px"><tspan x="5214" y="3316">Process Step</tspan><tspan x="5214" y="3348">Done in</tspan><tspan x="5214" y="3380">Outlook</tspan></text></g>
<g id="lg_ipf1"><rect class="blue" x="5340" y="3282" width="190" height="144"/><text class="t"><tspan x="5435" y="3331">Process Step</tspan><tspan x="5435" y="3363">Done with IPF1</tspan><tspan x="5435" y="3395">(InfoPath Form)</tspan></text></g>
<g id="lg_pq"><rect class="pur" x="5665" y="3282" width="191" height="144"/><text class="t"><tspan x="5761" y="3331">Process Step</tspan><tspan x="5761" y="3363">Done In Print</tspan><tspan x="5761" y="3395">Queue Swr</tspan></text></g>
<g id="lg_spc"><path class="grn" d="M5964,3234 H6215 A28,89 0 0 1 6215,3412 H5964 A28,89 0 0 1 5964,3234 Z"/><path class="face" d="M6215,3234 A28,89 0 0 0 6215,3412"/><text class="t"><tspan x="6078" y="3316">SP List C:  Change</tspan><tspan x="6078" y="3348">Control Board</tspan></text></g>
<g id="lg_manual"><rect class="wht" x="4495" y="3499" width="239" height="145"/><text class="t"><tspan x="4614" y="3531">Process Step Done</tspan><tspan x="4614" y="3563">Manually or With</tspan><tspan x="4614" y="3595">Standard SharePoint</tspan><tspan x="4614" y="3627">Features</tspan></text></g>
<g id="lg_wfemail"><path class="doc" d="M4879,3522 H5070 V3649 C4994,3611 4955,3686 4879,3649 Z"/><polygon class="org" points="4820,3474 5057,3474 4986,3618 4748,3618"/><text class="t"><tspan x="4901" y="3540">WF which</tspan><tspan x="4901" y="3571">sends email</tspan></text></g>
<g id="lg_ifp2"><rect class="gry" x="5111" y="3480" width="192" height="145"/><text class="t"><tspan x="5207" y="3529">Process Step</tspan><tspan x="5207" y="3560">Done with IFP2</tspan><tspan x="5207" y="3593">(InfoPath Form)</tspan></text></g>
<g id="lg_ipf1e"><path class="doc" d="M5399,3522 H5591 V3649 C5514,3611 5476,3686 5399,3649 Z"/><rect class="blue" x="5335" y="3462" width="209" height="156"/><text class="t"><tspan x="5440" y="3485">Process Step</tspan><tspan x="5440" y="3517">Done with IPF1</tspan><tspan x="5440" y="3549">where  email</tspan><tspan x="5440" y="3581">received initiates</tspan><tspan x="5440" y="3613">use of form</tspan></text></g>
<g id="lg_pqsys"><path class="pur" d="M5673,3474 H5917 A35,90 0 0 1 5917,3654 H5673 A35,90 0 0 1 5673,3474 Z"/><path class="face" d="M5917,3474 A35,90 0 0 0 5917,3654"/><text class="t"><tspan x="5783" y="3557">Print Queue Swr</tspan><tspan x="5783" y="3589">System</tspan></text></g>
<g id="lg_word"><path class="lgr" d="M6026,3503 H6218 A20,68.5 0 0 1 6218,3640 H6026 A20,68.5 0 0 1 6026,3503 Z"/><path class="face" d="M6218,3503 A20,68.5 0 0 0 6218,3640"/><text class="t"><tspan x="6113" y="3531">Process Step</tspan><tspan x="6113" y="3563">Done in Word,</tspan><tspan x="6113" y="3595">Stored on Hard</tspan><tspan x="6113" y="3627">Drive</tspan></text></g>
</g>
</g>
</svg>
